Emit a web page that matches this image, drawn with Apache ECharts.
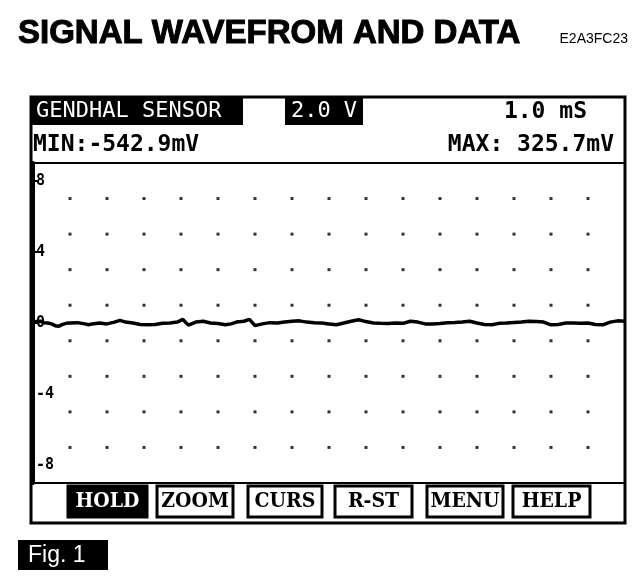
<!DOCTYPE html>
<html>
<head>
<meta charset="utf-8">
<script src="https://cdn.jsdelivr.net/npm/echarts@6/dist/echarts.min.js"></script>
<style>
html,body{margin:0;padding:0;background:#fff;}
#chart{width:640px;height:582px;}
</style>
</head>
<body>
<div id="chart"></div>
<script>
// ---- data ----
var titleText = 'SIGNAL WAVEFROM AND DATA';
var codeText = 'E2A3FC23';
var sensorLabel = 'GENDHAL SENSOR';
var voltScale = '2.0 V';
var timeScale = '1.0 mS';
var minText = 'MIN:-542.9mV';
var maxText = 'MAX: 325.7mV';
var buttons = ['HOLD', 'ZOOM', 'CURS', 'R-ST', 'MENU', 'HELP'];
var figText = 'Fig. 1';

var yTickValues = [8, 4, 0, -4, -8];
var yStubValues = [8, 4, 0];
var dotX = [1, 2, 3, 4, 5, 6, 7, 8, 9, 10, 11, 12, 13, 14, 15];
var dotY = [7, 5, 3, 1, -1, -3, -5, -7];

var waveT = [0.0, 0.1, 0.2, 0.3, 0.4, 0.5, 0.6, 0.7, 0.8, 0.9, 1.0, 1.2, 1.4, 1.5, 1.6, 1.8, 2.0, 2.2, 2.35, 2.5,
  2.7, 2.9, 3.1, 3.3, 3.5, 3.7, 3.9, 4.05, 4.2, 4.4, 4.6, 4.8, 5.0, 5.2, 5.35, 5.5, 5.7, 5.85, 6.0, 6.2,
  6.4, 6.6, 6.8, 7.0, 7.2, 7.4, 7.6, 7.8, 8.0, 8.2, 8.4, 8.6, 8.8, 9.0, 9.2, 9.4, 9.6, 9.8, 10.0, 10.2,
  10.4, 10.6, 10.8, 11.0, 11.2, 11.4, 11.6, 11.8, 12.0, 12.2, 12.4, 12.6, 12.8, 13.0, 13.2, 13.4, 13.6, 13.8, 14.0, 14.2,
  14.4, 14.6, 14.8, 15.0, 15.2, 15.4, 15.6, 15.8, 16.0];
var waveV = [0.05, 0.08, 0.1, 0.02, 0.0, -0.05, -0.15, -0.18, -0.08, -0.02, 0.0, 0.02, -0.05, -0.1, -0.05, 0.0, -0.05, 0.05, 0.15, 0.05,
  0.0, -0.08, -0.1, -0.08, -0.02, 0.0, 0.05, 0.2, -0.12, 0.05, 0.1, 0.0, -0.03, -0.1, -0.05, 0.05, 0.1, 0.2, -0.15, -0.05,
  0.02, 0.0, 0.05, 0.1, 0.12, 0.05, 0.02, 0.0, -0.05, -0.1, 0.0, 0.1, 0.18, 0.08, 0.0, -0.02, -0.03, 0.0, -0.02, 0.1,
  0.05, -0.05, -0.05, -0.03, 0.02, 0.03, 0.05, 0.1, 0.0, -0.08, -0.1, -0.02, 0.0, 0.03, 0.05, 0.1, 0.08, 0.05, -0.1, -0.08,
  0.0, 0.0, -0.02, 0.0, -0.08, -0.1, 0.05, 0.12, 0.1];

// ---- build ----
var waveData = waveT.map(function (t, i) { return [t, waveV[i]]; });
var dotData = [];
dotX.forEach(function (x) { dotY.forEach(function (y) { dotData.push([x, y]); }); });

var mono = 'DejaVu Sans Mono';
var btnLeft = [68, 157, 248, 335, 427, 513];
var btnRight = [147, 233, 322, 412, 503, 590];

var graphics = [];
// outer frame
graphics.push({type: 'rect', z: 10, shape: {x: 31, y: 97, width: 594, height: 426},
  style: {fill: 'none', stroke: '#000', lineWidth: 3}});
// header band
graphics.push({type: 'rect', shape: {x: 32, y: 97, width: 211, height: 28}, style: {fill: '#000'}});
graphics.push({type: 'text', x: 36, y: 111, style: {text: sensorLabel, fill: '#fff', font: '22px "' + mono + '"',
  align: 'left', verticalAlign: 'middle', textAlign: 'left', textVerticalAlign: 'middle'}});
graphics.push({type: 'rect', shape: {x: 285, y: 97, width: 78, height: 28}, style: {fill: '#000'}});
graphics.push({type: 'text', x: 324, y: 111, style: {text: voltScale, fill: '#fff', font: '22px "' + mono + '"',
  align: 'center', verticalAlign: 'middle', textAlign: 'center', textVerticalAlign: 'middle'}});
graphics.push({type: 'text', x: 587, y: 112, style: {text: timeScale, fill: '#000', font: 'bold 23px "' + mono + '"',
  align: 'right', verticalAlign: 'middle', textAlign: 'right', textVerticalAlign: 'middle'}});
graphics.push({type: 'text', x: 33, y: 145, style: {text: minText, fill: '#000', font: 'bold 23px "' + mono + '"',
  align: 'left', verticalAlign: 'middle', textAlign: 'left', textVerticalAlign: 'middle'}});
graphics.push({type: 'text', x: 614, y: 145, style: {text: maxText, fill: '#000', font: 'bold 23px "' + mono + '"',
  align: 'right', verticalAlign: 'middle', textAlign: 'right', textVerticalAlign: 'middle'}});
// buttons
buttons.forEach(function (b, i) {
  var first = i === 0;
  graphics.push({type: 'rect', shape: {x: btnLeft[i], y: 486, width: btnRight[i] - btnLeft[i], height: 31},
    style: {fill: first ? '#000' : '#fff', stroke: '#000', lineWidth: 3}});
  graphics.push({type: 'text', x: (btnLeft[i] + btnRight[i]) / 2, y: 502,
    style: {text: b, fill: first ? '#fff' : '#000', font: 'bold 21px "DejaVu Serif Condensed"',
      align: 'center', verticalAlign: 'middle', textAlign: 'center', textVerticalAlign: 'middle'}});
});
// figure label
graphics.push({type: 'rect', shape: {x: 18, y: 540, width: 90, height: 30}, style: {fill: '#000'}});
graphics.push({type: 'text', x: 28, y: 556, style: {text: figText, fill: '#fff', font: '23px "Liberation Sans"',
  align: 'left', verticalAlign: 'middle', textAlign: 'left', textVerticalAlign: 'middle'}});

var chart = echarts.init(document.getElementById('chart'), null, {renderer: 'canvas'});
chart.setOption({
  backgroundColor: '#fff',
  animation: false,
  title: [
    {text: titleText, left: 13, top: 12,
      textStyle: {fontSize: 33, fontWeight: 'bold', fontFamily: 'Liberation Sans', color: '#000',
        textBorderColor: '#000', textBorderWidth: 1}},
    {text: codeText, right: 7, top: 27,
      textStyle: {fontSize: 14, fontWeight: 'normal', fontFamily: 'Liberation Sans', color: '#000'}}
  ],
  grid: {left: 33, right: 15, top: 163, bottom: 99, show: true, borderColor: '#000', borderWidth: 2,
    backgroundColor: '#fff'},
  xAxis: {type: 'value', min: 0, max: 16, axisLine: {show: false}, axisTick: {show: false},
    axisLabel: {show: false}, splitLine: {show: false}},
  yAxis: {type: 'value', min: -9, max: 9,
    axisLine: {show: true, onZero: false, lineStyle: {color: '#000', width: 4}},
    axisTick: {show: true, inside: true, length: 4, customValues: yStubValues, lineStyle: {color: '#000', width: 2}},
    axisLabel: {show: true, inside: true, customValues: yTickValues, margin: 3, color: '#000',
      fontFamily: mono, fontWeight: 'bold', fontSize: 15},
    splitLine: {show: false}},
  series: [
    {type: 'scatter', data: dotData, symbol: 'rect', symbolSize: 3, silent: true,
      itemStyle: {color: '#000'}, z: 1},
    {type: 'line', data: waveData, showSymbol: false, smooth: false, silent: true,
      lineStyle: {color: '#000', width: 3.5}, z: 3}
  ],
  graphic: graphics
});
</script>
</body>
</html>
